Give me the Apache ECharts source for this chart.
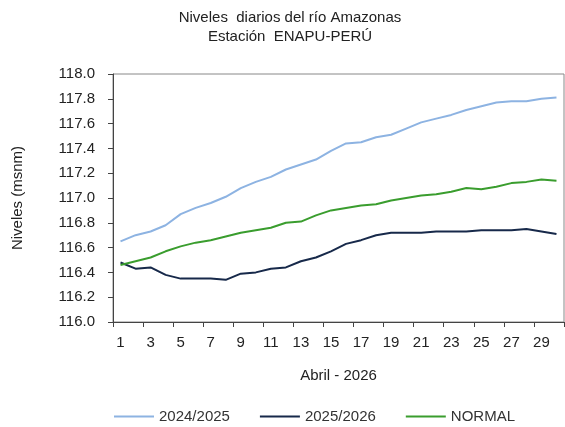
<!DOCTYPE html>
<html>
<head>
<meta charset="utf-8">
<script src="https://cdn.jsdelivr.net/npm/echarts@6/dist/echarts.min.js"></script>
<style>
  html, body { margin: 0; padding: 0; background: #fff; }
  #chart { width: 565px; height: 427px; }
</style>
</head>
<body>
<div id="chart"></div>
<script>
// dias de abril
var dias = [];
for (var d = 1; d <= 30; d++) dias.push(String(d));

var serie2024 = [116.65, 116.70, 116.73, 116.78, 116.87, 116.92, 116.96, 117.01, 117.08, 117.13,
  117.17, 117.23, 117.27, 117.31, 117.38, 117.44, 117.45, 117.49, 117.51, 117.56,
  117.61, 117.64, 117.67, 117.71, 117.74, 117.77, 117.78, 117.78, 117.80, 117.81];
var serie2025 = [116.48, 116.43, 116.44, 116.38, 116.35, 116.35, 116.35, 116.34, 116.39, 116.40,
  116.43, 116.44, 116.49, 116.52, 116.57, 116.63, 116.66, 116.70, 116.72, 116.72,
  116.72, 116.73, 116.73, 116.73, 116.74, 116.74, 116.74, 116.75, 116.73, 116.71];
var normal = [116.46, 116.49, 116.52, 116.57, 116.61, 116.64, 116.66, 116.69, 116.72, 116.74,
  116.76, 116.80, 116.81, 116.86, 116.90, 116.92, 116.94, 116.95, 116.98, 117.00,
  117.02, 117.03, 117.05, 117.08, 117.07, 117.09, 117.12, 117.13, 117.15, 117.14];

var fuente = 'Liberation Sans, Arial, sans-serif';
var chart = echarts.init(document.getElementById('chart'));
chart.setOption({
  animation: false,
  textStyle: { fontFamily: fuente },
  title: {
    text: 'Niveles  diarios del río Amazonas\nEstación  ENAPU-PERÚ',
    left: 285, top: 3, textAlign: 'center',
    textStyle: { fontSize: 15, fontWeight: 'normal', color: '#222', lineHeight: 19, fontFamily: fuente }
  },
  legend: {
    top: 404, left: 109, itemWidth: 40, itemHeight: 2, itemGap: 30,
    icon: 'rect',
    textStyle: { fontSize: 15, color: '#333', fontFamily: fuente },
    data: ['2024/2025', '2025/2026', 'NORMAL']
  },
  grid: {
    left: 113, right: 1, top: 74, bottom: 105,
    show: true, borderColor: '#888', borderWidth: 1
  },
  xAxis: {
    type: 'category', data: dias, boundaryGap: true,
    name: 'Abril - 2026', nameLocation: 'middle', nameGap: 46,
    nameTextStyle: { fontSize: 15, color: '#222', fontFamily: fuente },
    axisLine: { lineStyle: { color: '#444' } },
    axisTick: { show: true, interval: 1, length: 5, lineStyle: { color: '#444' } },
    axisLabel: { interval: 1, fontSize: 15, color: '#222', margin: 13, fontFamily: fuente },
    splitLine: { show: false }
  },
  yAxis: {
    type: 'value', min: 116, max: 118, interval: 0.2,
    name: 'Niveles (msnm)', nameLocation: 'middle', nameGap: 88, nameRotate: 90,
    nameTextStyle: { fontSize: 15, color: '#222', fontFamily: fuente },
    axisLine: { show: true, lineStyle: { color: '#444' } },
    axisTick: { show: true, length: 5, lineStyle: { color: '#444' } },
    axisLabel: { fontSize: 15, color: '#222', margin: 18, fontFamily: fuente,
      formatter: function (v) { return v.toFixed(1); } },
    splitLine: { show: false }
  },
  series: [
    { name: '2024/2025', type: 'line', data: serie2024, symbol: 'none',
      lineStyle: { width: 2, color: '#8db3e2' }, itemStyle: { color: '#8db3e2' } },
    { name: '2025/2026', type: 'line', data: serie2025, symbol: 'none',
      lineStyle: { width: 2, color: '#17294a' }, itemStyle: { color: '#17294a' } },
    { name: 'NORMAL', type: 'line', data: normal, symbol: 'none',
      lineStyle: { width: 2, color: '#3a9d2e' }, itemStyle: { color: '#3a9d2e' } }
  ]
});
</script>
</body>
</html>
